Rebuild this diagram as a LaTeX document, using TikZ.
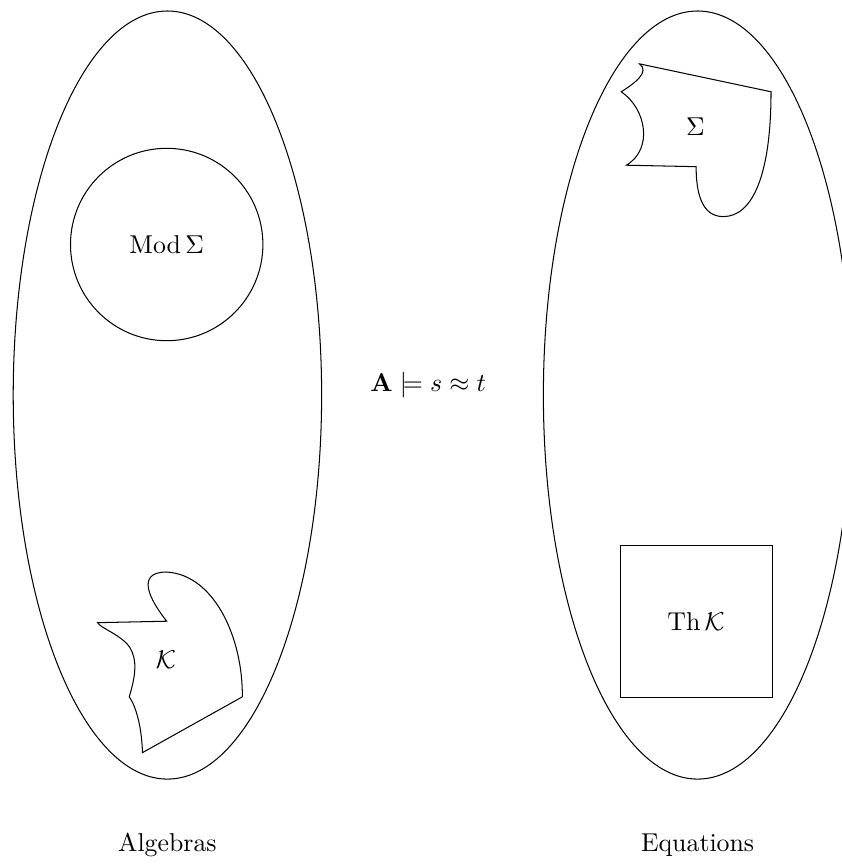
\documentclass[tikz,border=0pt]{standalone}
\usepackage{amsmath,amssymb}
\usetikzlibrary{shapes.geometric}

\begin{document}
\begin{tikzpicture}
  \tikzset{class/.style={draw,ellipse,minimum width=4.2cm,minimum height=10.46cm,inner sep=0pt}}
  \useasboundingbox (0,0) rectangle (11.46,11.78);
  % the two classes
  \node[class] (algebras) at (2.28,6.40) {};
  \node[class] (equations) at (9.50,6.40) {};
  \node (alglabel) at (2.28,0.27) {Algebras};
  \node (eqlabel) at (9.50,0.27) {Equations};
  \node (sat) at (5.83,6.53) {$\mathbf{A}\models s\approx t$};
  % inside the algebras
  \node[draw,circle,minimum size=2.62cm,inner sep=0pt] (mod) at (2.27,8.45) {$\mathrm{Mod}\,\Sigma$};
  \draw (2.27,3.32) .. controls (2.04,3.61) and (1.84,3.99) .. (2.27,3.99)
    .. controls (2.93,3.95) and (3.31,3.07) .. (3.30,2.29)
    -- (1.94,1.53)
    .. controls (1.93,1.91) and (1.84,2.18) .. (1.76,2.29)
    .. controls (1.85,2.59) and (1.87,2.79) .. (1.77,2.96)
    .. controls (1.66,3.13) and (1.36,3.23) .. (1.33,3.30) -- cycle;
  \node (K) at (2.26,2.79) {$\mathcal{K}$};
  % inside the equations
  \draw (8.71,10.91) -- (10.50,10.53)
    .. controls (10.50,9.40) and (10.25,8.83) .. (9.85,8.83)
    .. controls (9.54,8.83) and (9.48,9.19) .. (9.48,9.51)
    -- (8.53,9.53)
    .. controls (8.90,9.75) and (8.80,10.30) .. (8.46,10.53)
    .. controls (8.65,10.65) and (8.85,10.80) .. cycle;
  \node (sigma) at (9.47,10.06) {$\Sigma$};
  \node[draw,minimum size=2.07cm,inner sep=0pt] (th) at (9.48,3.32) {$\mathrm{Th}\,\mathcal{K}$};
\end{tikzpicture}
\end{document}
